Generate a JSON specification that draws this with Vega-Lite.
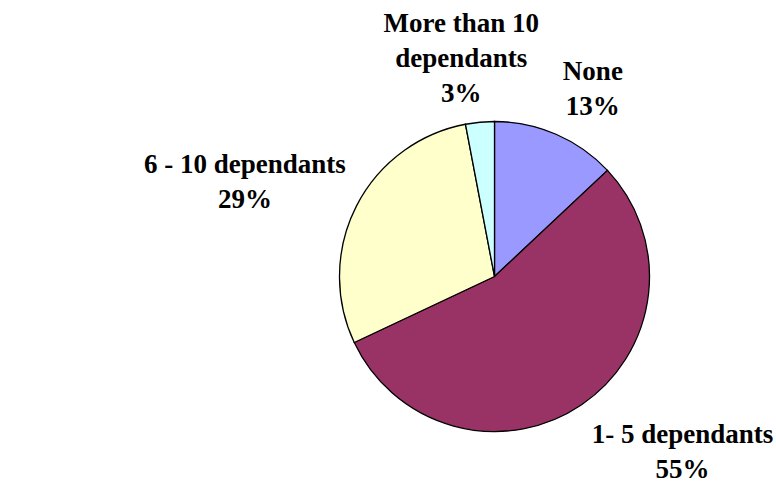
{
  "$schema": "https://vega.github.io/schema/vega-lite/v6.json",
  "width": 563,
  "height": 417,
  "autosize": {"type": "none"},
  "padding": {"left": 213, "top": 68, "right": 0, "bottom": 0},
  "background": "white",
  "config": {"view": {"stroke": null}},
  "data": {
    "values": [
      {"category": "None", "value": 13, "order": 1, "label": "None\n13%"},
      {"category": "1- 5 dependants", "value": 55, "order": 2, "label": "1- 5 dependants\n55%"},
      {"category": "6 - 10 dependants", "value": 29, "order": 3, "label": "6 - 10 dependants\n29%"},
      {"category": "More than 10 dependants", "value": 3, "order": 4, "label": "More than 10\ndependants\n3%"}
    ]
  },
  "encoding": {
    "theta": {"field": "value", "type": "quantitative", "stack": true},
    "order": {"field": "order", "type": "quantitative"},
    "detail": {"field": "category", "type": "nominal"}
  },
  "layer": [
    {
      "mark": {"type": "arc", "outerRadius": 155, "stroke": "black", "strokeWidth": 1.3},
      "encoding": {
        "color": {
          "field": "category",
          "type": "nominal",
          "scale": {
            "domain": ["None", "1- 5 dependants", "6 - 10 dependants", "More than 10 dependants"],
            "range": ["#9999FF", "#993366", "#FFFFCC", "#CCFFFF"]
          },
          "legend": null
        }
      }
    },
    {
      "mark": {"type": "text", "radius": 220, "dx": 11, "dy": 5, "lineBreak": "\n", "font": "'Liberation Serif', 'DejaVu Serif', serif", "fontWeight": "bold", "fontSize": 27, "lineHeight": 35, "baseline": "alphabetic", "align": "center", "color": "black"},
      "encoding": {"text": {"condition": {"test": "datum.category === 'None'", "field": "label", "type": "nominal"}, "value": ""}}
    },
    {
      "mark": {"type": "text", "radius": 251, "dx": 47, "dy": -41, "lineBreak": "\n", "font": "'Liberation Serif', 'DejaVu Serif', serif", "fontWeight": "bold", "fontSize": 27, "lineHeight": 35, "baseline": "alphabetic", "align": "center", "color": "black"},
      "encoding": {"text": {"condition": {"test": "datum.category === '1- 5 dependants'", "field": "label", "type": "nominal"}, "value": ""}}
    },
    {
      "mark": {"type": "text", "radius": 270, "dx": -9, "dy": 19, "lineBreak": "\n", "font": "'Liberation Serif', 'DejaVu Serif', serif", "fontWeight": "bold", "fontSize": 27, "lineHeight": 35, "baseline": "alphabetic", "align": "center", "color": "black"},
      "encoding": {"text": {"condition": {"test": "datum.category === '6 - 10 dependants'", "field": "label", "type": "nominal"}, "value": ""}}
    },
    {
      "mark": {"type": "text", "radius": 247, "dx": -10, "dy": 1, "lineBreak": "\n", "font": "'Liberation Serif', 'DejaVu Serif', serif", "fontWeight": "bold", "fontSize": 27, "lineHeight": 35, "baseline": "alphabetic", "align": "center", "color": "black"},
      "encoding": {"text": {"condition": {"test": "datum.category === 'More than 10 dependants'", "field": "label", "type": "nominal"}, "value": ""}}
    }
  ]
}
